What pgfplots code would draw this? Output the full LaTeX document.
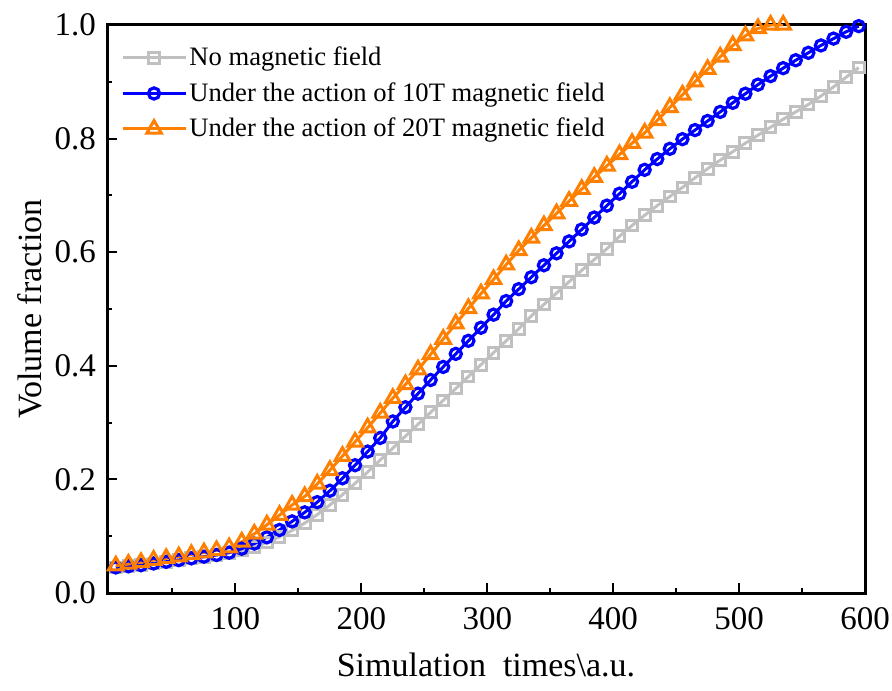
\documentclass[border=0pt]{standalone}
\usepackage{fontspec}
\setmainfont{Liberation Serif}
\usepackage{pgfplots}
\pgfplotsset{compat=1.18}
\definecolor{cgray}{RGB}{192,192,192}
\definecolor{cblue}{RGB}{0,0,255}
\definecolor{corange}{RGB}{255,128,0}
\begin{document}
\begin{tikzpicture}
\useasboundingbox (-53.5bp,-49bp) rectangle (392.5bp,296.5bp);
\begin{axis}[
  scale only axis, width=379bp, height=284bp,
  xmin=-2, xmax=600, ymin=0, ymax=1,
  xtick={100,200,300,400,500,600},
  minor xtick={50,150,250,350,450,550},
  ytick={0,0.2,0.4,0.6,0.8,1.0},
  minor ytick={0.1,0.3,0.5,0.7,0.9},
  yticklabel style={/pgf/number format/fixed,/pgf/number format/fixed zerofill,/pgf/number format/precision=1, xshift=-2bp},
  /pgf/number format/assume math mode=true,
  tick align=inside,
  xtick pos=bottom, ytick pos=left,
  major tick length=5bp, minor tick length=2.5bp,
  every tick/.style={line width=1bp, black},
  axis line style={line width=1.5bp},
  tick label style={font=\fontsize{16.5bp}{18bp}\selectfont},
  xticklabel style={yshift=-4bp},
  label style={font=\fontsize{17bp}{20bp}\selectfont},
  xlabel={Simulation\ \ times\textbackslash a.u.},
  ylabel={Volume fraction},
  x label style={at={(axis description cs:0.5,-0.127)}, anchor=center},
  y label style={at={(axis description cs:-0.1016,0.5)}, anchor=center},
  legend cell align=left,
  legend style={at={(axis description cs:0.018,0.966)}, anchor=north west,
    draw=none, fill=none, inner sep=0pt, row sep=4.5bp,
    font=\fontsize{13.3bp}{15bp}\selectfont,
    nodes={inner sep=1.2bp}},
  legend image code/.code={\draw[mark repeat=2,mark phase=2] plot coordinates {(0bp,0bp)(15.75bp,0bp)(31.5bp,0bp)};},
]
\addplot[color=cgray, line width=1.5bp, mark=square, mark size=2.7bp, mark options={line width=1.5bp}] coordinates {
(5,0.045)(15,0.047)(25,0.049)(35,0.052)(45,0.055)(55,0.058)(65,0.061)(75,0.064)(85,0.067)(95,0.071)
(105,0.075)(115,0.081)(125,0.089)(135,0.099)(145,0.110)(155,0.123)(165,0.138)(175,0.155)(185,0.173)(195,0.193)
(205,0.213)(215,0.234)(225,0.255)(235,0.276)(245,0.297)(255,0.318)(265,0.339)(275,0.360)(285,0.381)(295,0.402)
(305,0.423)(315,0.444)(325,0.465)(335,0.488)(345,0.508)(355,0.528)(365,0.548)(375,0.568)(385,0.587)(395,0.606)
(405,0.628)(415,0.647)(425,0.665)(435,0.682)(445,0.698)(455,0.714)(465,0.731)(475,0.747)(485,0.762)(495,0.777)
(505,0.792)(515,0.806)(525,0.820)(535,0.834)(545,0.847)(555,0.860)(565,0.875)(575,0.891)(585,0.908)(595,0.925)
};
\addlegendentry{No magnetic field}
\addplot[color=cblue, line width=1.5bp, mark=o, mark size=2.8bp, mark options={line width=1.6bp}] coordinates {
(5,0.045)(15,0.047)(25,0.049)(35,0.052)(45,0.055)(55,0.058)(65,0.061)(75,0.064)(85,0.067)(95,0.071)
(105,0.078)(115,0.087)(125,0.098)(135,0.111)(145,0.126)(155,0.142)(165,0.160)(175,0.180)(185,0.202)(195,0.225)
(205,0.249)(215,0.273)(225,0.302)(235,0.327)(245,0.351)(255,0.375)(265,0.398)(275,0.421)(285,0.444)(295,0.467)
(305,0.490)(315,0.514)(325,0.535)(335,0.556)(345,0.577)(355,0.598)(365,0.619)(375,0.640)(385,0.661)(395,0.682)
(405,0.703)(415,0.724)(425,0.745)(435,0.764)(445,0.782)(455,0.799)(465,0.815)(475,0.831)(485,0.847)(495,0.863)
(505,0.879)(515,0.895)(525,0.910)(535,0.924)(545,0.938)(555,0.951)(565,0.964)(575,0.976)(585,0.988)(595,0.998)
};
\addlegendentry{Under the action of 10T magnetic field}
\addplot[color=corange, line width=1.5bp, mark=triangle, mark size=4.2bp, mark options={line width=1.5bp}] coordinates {
(5,0.048)(15,0.051)(25,0.054)(35,0.058)(45,0.061)(55,0.064)(65,0.068)(75,0.071)(85,0.075)(95,0.080)
(105,0.090)(115,0.104)(125,0.120)(135,0.137)(145,0.155)(155,0.170)(165,0.192)(175,0.216)(185,0.241)(195,0.266)
(205,0.291)(215,0.317)(225,0.343)(235,0.367)(245,0.393)(255,0.420)(265,0.447)(275,0.474)(285,0.501)(295,0.527)
(305,0.552)(315,0.578)(325,0.603)(335,0.625)(345,0.647)(355,0.668)(365,0.690)(375,0.711)(385,0.732)(395,0.752)
(405,0.772)(415,0.792)(425,0.810)(435,0.832)(445,0.855)(455,0.877)(465,0.900)(475,0.922)(485,0.944)(495,0.964)
(505,0.981)(515,0.994)(525,1.000)(535,1.000)
};
\addlegendentry{Under the action of 20T magnetic field}
\end{axis}
\end{tikzpicture}
\end{document}
